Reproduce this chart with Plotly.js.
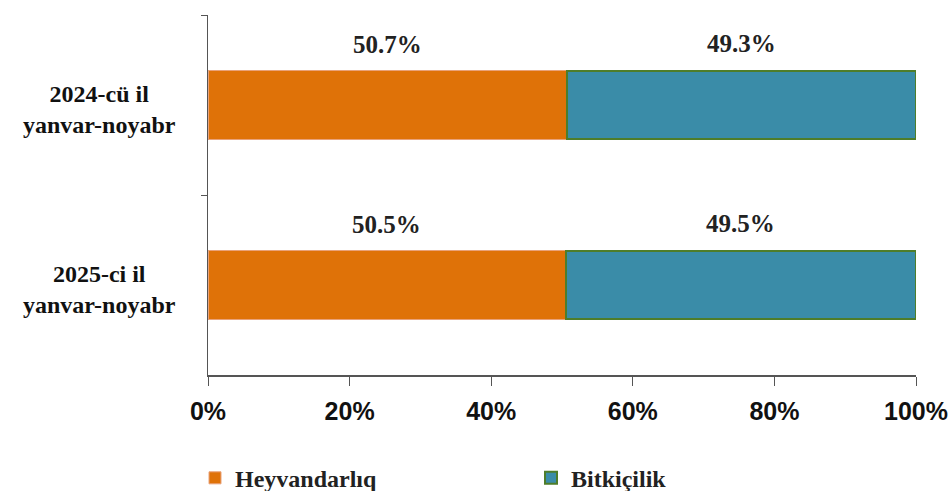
<!DOCTYPE html>
<html>
<head>
<meta charset="utf-8">
<script src="https://cdn.plot.ly/plotly-3.0.1.min.js"></script>
<style>
  html, body { margin: 0; padding: 0; background: #fff; }
  #chart { width: 950px; height: 491px; }
</style>
</head>
<body>
<div id="chart"></div>
<script>
var periods = ['2024-cü il<br>yanvar-noyabr', '2025-ci il<br>yanvar-noyabr'];
var heyvandarliq = [50.7, 50.5];
var bitkicilik = [49.3, 49.5];
var seriesNames = ['Heyvandarlıq', 'Bitkiçilik'];
var tickVals = [0, 20, 40, 60, 80, 100];
var tickText = ['0%', '20%', '40%', '60%', '80%', '100%'];

var serif = '"Liberation Serif", "Times New Roman", serif';
var narrow = '"Liberation Sans Narrow", "Arial Narrow", sans-serif';

var traces = [
  {
    type: 'bar',
    orientation: 'h',
    name: seriesNames[0],
    legend: 'legend',
    y: periods,
    x: heyvandarliq,
    width: 0.38,
    marker: { color: '#DF7208', line: { color: '#E9A27A', width: 1 } },
    hoverinfo: 'skip'
  },
  {
    type: 'bar',
    orientation: 'h',
    name: seriesNames[1],
    legend: 'legend2',
    y: periods,
    x: bitkicilik,
    width: 0.38,
    marker: { color: '#3A8CA8', line: { color: '#4E7D2A', width: 2 } },
    hoverinfo: 'skip'
  }
];

var annotations = [];
for (var i = 0; i < periods.length; i++) {
  // value labels above each segment
  annotations.push({
    x: heyvandarliq[i] / 2, y: periods[i], xref: 'x', yref: 'y',
    text: '<b>' + heyvandarliq[i].toFixed(1) + '%</b>',
    showarrow: false, yshift: 61,
    font: { family: serif, size: 25, color: '#222' }
  });
  annotations.push({
    x: heyvandarliq[i] + bitkicilik[i] / 2, y: periods[i], xref: 'x', yref: 'y',
    text: '<b>' + bitkicilik[i].toFixed(1) + '%</b>',
    showarrow: false, yshift: 62,
    font: { family: serif, size: 25, color: '#222' }
  });
  // centred category labels
  annotations.push({
    x: -0.153, y: periods[i], xref: 'paper', yref: 'y',
    xanchor: 'center', align: 'center',
    text: '<b>' + periods[i] + '</b>',
    showarrow: false, yshift: -4,
    font: { family: serif, size: 24, color: '#111' }
  });
}

var legendFont = { family: serif, size: 24, color: '#222', weight: 'bold' };

var layout = {
  width: 950,
  height: 491,
  barmode: 'stack',
  plot_bgcolor: '#fff',
  paper_bgcolor: '#fff',
  margin: { l: 208, r: 34, t: 15, b: 116 },
  showlegend: true,
  legend: {
    orientation: 'h',
    xref: 'container', yref: 'container',
    x: 195 / 950, y: 0.026,
    xanchor: 'left', yanchor: 'middle',
    font: legendFont
  },
  legend2: {
    orientation: 'h',
    xref: 'container', yref: 'container',
    x: 531 / 950, y: 0.026,
    xanchor: 'left', yanchor: 'middle',
    font: legendFont
  },
  xaxis: {
    range: [0, 100],
    tickvals: tickVals,
    ticktext: tickText,
    showgrid: false,
    zeroline: false,
    showline: true,
    linecolor: '#555',
    linewidth: 1.5,
    ticks: 'outside',
    ticklen: 9,
    tickcolor: '#555',
    ticklabelstandoff: 4,
    tickfont: { family: narrow, size: 25, color: '#111', weight: 'bold' },
    fixedrange: true
  },
  yaxis: {
    autorange: 'reversed',
    showgrid: false,
    showline: true,
    linecolor: '#555',
    linewidth: 1.5,
    ticks: 'outside',
    tickson: 'boundaries',
    ticklen: 6,
    tickcolor: '#555',
    showticklabels: false,
    fixedrange: true
  },
  annotations: annotations
};

Plotly.newPlot('chart', traces, layout, { displayModeBar: false, staticPlot: true });
</script>
</body>
</html>
